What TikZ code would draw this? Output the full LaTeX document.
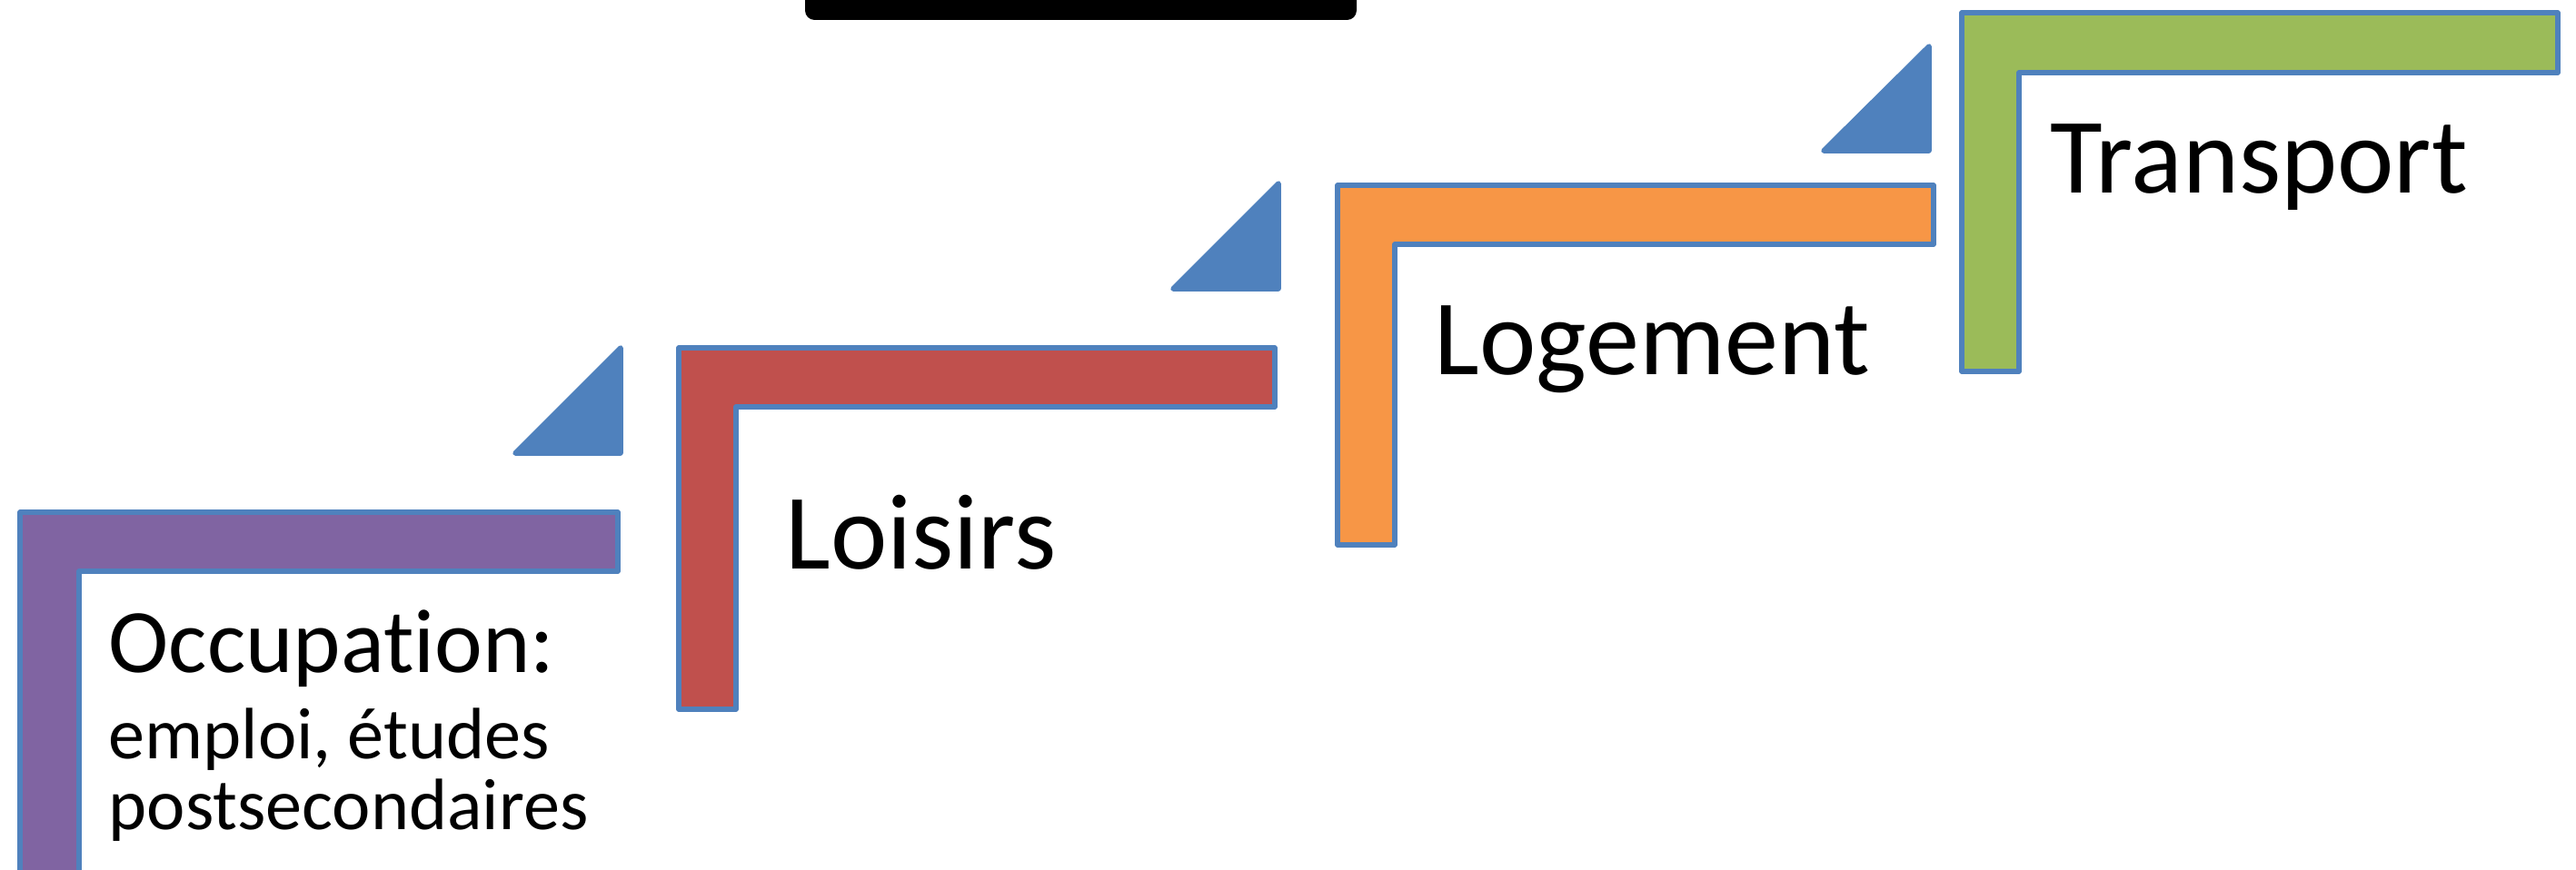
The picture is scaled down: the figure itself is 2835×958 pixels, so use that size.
\documentclass[tikz,border=0pt]{standalone}
\usepackage{fontspec}
\setmainfont{Carlito}[Ligatures={NoCommon}]
\usetikzlibrary{positioning}
\definecolor{stairblue}{HTML}{4F81BD}
\definecolor{occpurple}{HTML}{8064A2}
\definecolor{loisred}{HTML}{C0504D}
\definecolor{logorange}{HTML}{F79646}
\definecolor{transgreen}{HTML}{9BBB59}
\tikzset{
stairL/.style={
  draw=stairblue,
  line width=1.6pt,
  line join=round
  },
wedge/.style={
  fill=stairblue,
  draw=stairblue,
  line width=1.6pt,
  line join=round
  },
bigtxt/.style={font=\fontsize{33.6}{40}\selectfont, inner sep=0pt, anchor=base west},
midtxt/.style={font=\fontsize{28.4}{34}\selectfont, inner sep=0pt, anchor=base west},
smalltxt/.style={font=\fontsize{22.8}{27}\selectfont, inner sep=0pt, anchor=base west}
}

\begin{document}
\begin{tikzpicture}[x=0.01cm,y=-0.01cm]
\useasboundingbox (0,0) rectangle (2835,958);
\clip (0,0) rectangle (2835,958);

% title box, cut by the top edge
\fill[black, rounded corners=3pt] (886,-40) rectangle (1493,22);

% occupation
\draw[stairL, fill=occpurple] (22,564) -- ++(658,0) -- ++(0,65)
  -- ++(-593,0) -- ++(0,332) -- ++(-65,0) -- cycle;
\draw[wedge] (683,499) -- ++(0,-116) -- ++(-116,116) -- cycle;

\node[midtxt] (occ) at (119,741) {Occupation:};
\node[smalltxt] (occemploi) at (119,835) {emploi, études};
\node[smalltxt] (occpost) at (119,913) {postsecondaires};

% loisirs
\draw[stairL, fill=loisred] (747,383) -- ++(656,0) -- ++(0,65)
  -- ++(-593,0) -- ++(0,333) -- ++(-63,0) -- cycle;
\draw[wedge] (1407,318) -- ++(0,-116) -- ++(-116,116) -- cycle;

\node[bigtxt] (loisirs) at (864,627) {Loisirs};

% logement
\draw[stairL, fill=logorange] (1472,204) -- ++(656,0) -- ++(0,65)
  -- ++(-593,0) -- ++(0,331) -- ++(-63,0) -- cycle;
\draw[wedge] (2123,166) -- ++(0,-115) -- ++(-116,115) -- cycle;

\node[bigtxt] (logement) at (1578,413) {Logement};

% transport
\draw[stairL, fill=transgreen] (2159,14) -- ++(656,0) -- ++(0,66)
  -- ++(-593,0) -- ++(0,329) -- ++(-63,0) -- cycle;

\node[bigtxt] (transport) at (2256,213) {Transport};

\end{tikzpicture}
\end{document}
